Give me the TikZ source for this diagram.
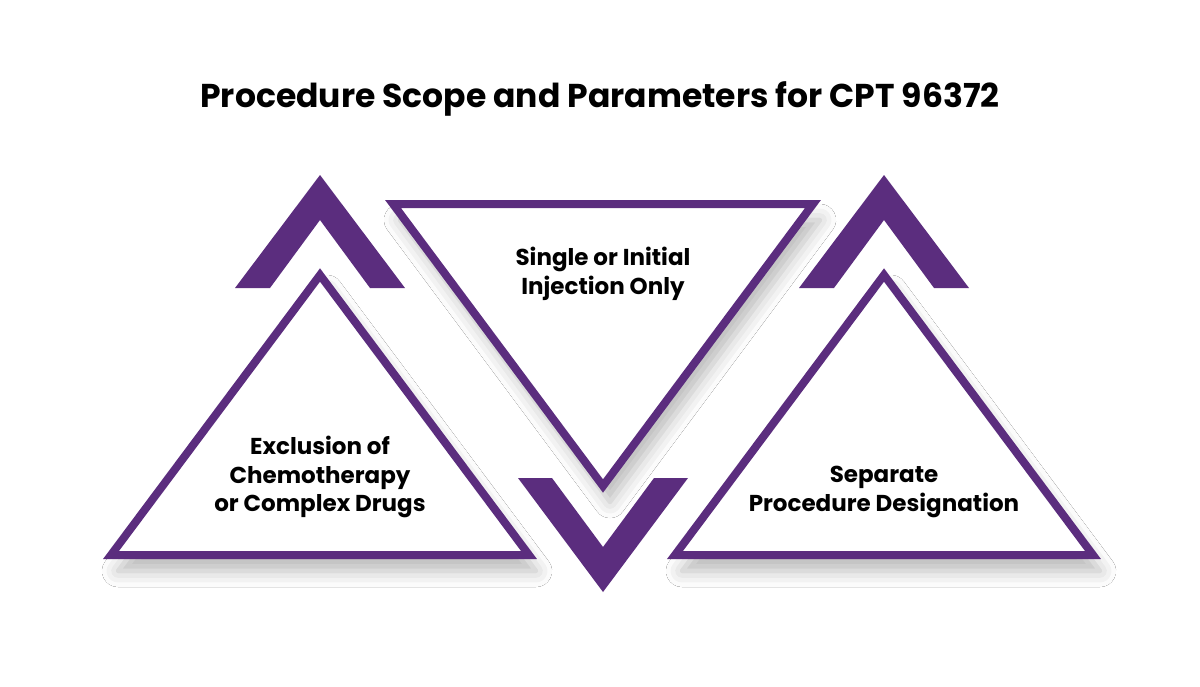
\documentclass[tikz,border=0pt]{standalone}
\usepackage{fontspec}
\setmainfont{Poppins}
\usepackage{tikz}
\usetikzlibrary{shadows.blur}
\definecolor{procpurple}{RGB}{91,45,126}

\begin{document}
\begin{tikzpicture}[
    x=1pt, y=-1pt,
    tri/.style={draw=procpurple, fill=white, line width=8pt, line join=miter,
        blur shadow={shadow xshift=7pt, shadow yshift=-16pt, shadow blur radius=16pt, shadow opacity=28}},
    chev/.style={fill=procpurple},
    label/.style={align=center, font=\bfseries\fontsize{23}{28.5}\selectfont, text=black},
    title/.style={font=\bfseries\fontsize{33}{40}\selectfont, text=black}
]
    \useasboundingbox[fill=white] (0,0) rectangle (1200,686);

    % triangles
    \draw[tri] (320,275) -- (529,555) -- (111,555) -- cycle;
    \draw[tri] (393,204) -- (813,204) -- (603,486) -- cycle;
    \draw[tri] (884,275) -- (1093,555) -- (675,555) -- cycle;

    % chevrons
    \fill[chev] (235,288) -- (320,175) -- (405,288) -- (370,288) -- (320,220) -- (270,288) -- cycle;
    \fill[chev] (518,478) -- (603,592) -- (688,478) -- (654,478) -- (603,547) -- (552,478) -- cycle;
    \fill[chev] (799,288) -- (884,175) -- (969,288) -- (934,288) -- (884,220) -- (834,288) -- cycle;

    % texts
    \node[title] (head) at (600,99) {Procedure Scope and Parameters for CPT 96372};
    \node[label] (excl) at (320,477) {Exclusion of\\Chemotherapy\\or Complex Drugs};
    \node[label] (single) at (603,274) {Single or Initial\\Injection Only};
    \node[label] (sep) at (884,492) {Separate\\Procedure Designation};
\end{tikzpicture}
\end{document}
